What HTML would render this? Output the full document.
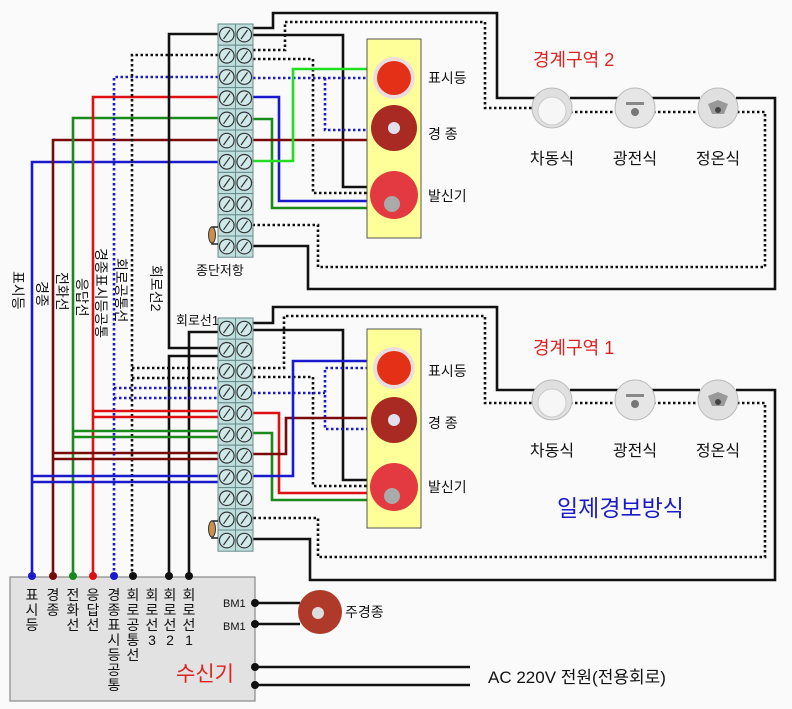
<!DOCTYPE html>
<html><head><meta charset="utf-8"><style>
html,body{margin:0;padding:0;background:#fafafa;}
svg{display:block;font-family:"Liberation Sans","Noto Sans CJK KR",sans-serif;}
</style></head><body>
<svg width="792" height="709" viewBox="0 0 792 709" xmlns="http://www.w3.org/2000/svg">
<defs>
<g id="cell">
<rect x="0" y="0" width="17.5" height="21.2" fill="#bfdede" stroke="#6a8a8a" stroke-width="1"/>
<circle cx="8.75" cy="10.6" r="7.3" fill="#cfe8e8" stroke="#333" stroke-width="1.2"/>
<line x1="5.5" y1="15" x2="12" y2="6" stroke="#333" stroke-width="1.2"/>
</g>
<g id="col">
<use href="#cell" y="0"/><use href="#cell" y="21.2"/><use href="#cell" y="42.4"/><use href="#cell" y="63.6"/><use href="#cell" y="84.8"/><use href="#cell" y="106"/><use href="#cell" y="127.2"/><use href="#cell" y="148.4"/><use href="#cell" y="169.6"/><use href="#cell" y="190.8"/><use href="#cell" y="212"/>
</g>
<g id="det1"><circle r="20" fill="#e0e0e0" stroke="#bbb"/><circle r="14" cy="3" fill="#f6f6f6" stroke="#ccc"/></g>
<g id="det2"><circle r="20" fill="#e6e6e6" stroke="#bbb"/><circle r="4" cy="4" fill="#777"/><rect x="-9" y="-6" width="18" height="3" fill="#888"/></g>
<g id="det3"><circle r="20" fill="#e0e0e0" stroke="#bbb"/><path d="M-10 -4 L0 -8 L10 -4 L6 6 L-6 6Z" fill="#999"/><circle r="3" cy="2" fill="#444"/></g>
</defs>
<rect width="792" height="709" fill="#fafafa"/>

<g fill="none" stroke-width="2.6" stroke-linejoin="miter">
<polyline points="218,162 32,162 32,577" stroke="#1a1acc"/>
<polyline points="218,140 53,140 53,577" stroke="#7a0a0a"/>
<polyline points="218,118 73,118 73,577" stroke="#1a8a1a"/>
<polyline points="218,97 93,97 93,577" stroke="#dd1111"/>
<polyline points="218,77 114,77 114,577" stroke="#1a1acc" stroke-dasharray="2.5 2.5"/>
<polyline points="218,55 132,55 132,577" stroke="#111" stroke-dasharray="2.5 2.5"/>
<polyline points="218,34 169,34 169,348 218,348" stroke="#111"/>
<polyline points="218,356 169,356 169,577" stroke="#111"/>
<polyline points="218,332 189,332 189,577" stroke="#111"/>
<line x1="132" y1="368" x2="218" y2="368" stroke="#111" stroke-dasharray="2.5 2.5"/>
<line x1="132" y1="378" x2="218" y2="378" stroke="#111" stroke-dasharray="2.5 2.5"/>
<line x1="114" y1="388" x2="218" y2="388" stroke="#1a1acc" stroke-dasharray="2.5 2.5"/>
<line x1="114" y1="398" x2="218" y2="398" stroke="#1a1acc" stroke-dasharray="2.5 2.5"/>
<line x1="93" y1="411" x2="218" y2="411" stroke="#dd1111"/>
<line x1="93" y1="417" x2="218" y2="417" stroke="#dd1111"/>
<line x1="73" y1="431" x2="218" y2="431" stroke="#1a8a1a"/>
<line x1="73" y1="437" x2="218" y2="437" stroke="#1a8a1a"/>
<line x1="53" y1="453" x2="218" y2="453" stroke="#7a0a0a"/>
<line x1="53" y1="459" x2="218" y2="459" stroke="#7a0a0a"/>
<line x1="32" y1="476" x2="218" y2="476" stroke="#1a1acc"/>
<line x1="32" y1="482" x2="218" y2="482" stroke="#1a1acc"/>

<polyline points="253,28 273,28 273,13 497,13 497,98 540,98" stroke="#111"/>
<polyline points="570,98 620,98" stroke="#111"/>
<polyline points="652,98 700,98" stroke="#111"/>
<polyline points="736,98 775,98 775,289 308,289 308,246 253,246" stroke="#111"/>
<polyline points="253,50 285,50 285,22 485,22 485,108 535,108" stroke="#111" stroke-dasharray="2.5 2.5"/>
<polyline points="570,112 617,112" stroke="#111" stroke-dasharray="2.5 2.5"/>
<polyline points="653,112 700,112" stroke="#111" stroke-dasharray="2.5 2.5"/>
<polyline points="737,112 765,112 765,267 318,267 318,225 253,225" stroke="#111" stroke-dasharray="2.5 2.5"/>
<polyline points="253,35 343,35 343,187 373,187" stroke="#111"/>
<polyline points="253,59 313,59 313,193 373,193" stroke="#111" stroke-dasharray="2.5 2.5"/>
<polyline points="253,78 378,78" stroke="#1a1acc" stroke-dasharray="2.5 2.5"/>
<polyline points="325,78 325,130 373,130" stroke="#1a1acc" stroke-dasharray="2.5 2.5"/>
<polyline points="253,97 279,97 279,201 373,201" stroke="#1a1acc"/>
<polyline points="253,119 272,119 272,208 373,208" stroke="#1a8a1a"/>
<polyline points="253,140 373,140" stroke="#7a0a0a"/>
<polyline points="253,161 293,161 293,69 378,69" stroke="#22dd22"/>

<polyline points="253,323 273,323 273,307 497,307 497,390 540,390" stroke="#111"/>
<polyline points="570,390 620,390" stroke="#111"/>
<polyline points="652,390 700,390" stroke="#111"/>
<polyline points="736,390 775,390 775,580 310,580 310,539 253,539" stroke="#111"/>
<polyline points="253,368 284,368 284,316 485,316 485,403 535,403" stroke="#111" stroke-dasharray="2.5 2.5"/>
<polyline points="570,403 617,403" stroke="#111" stroke-dasharray="2.5 2.5"/>
<polyline points="653,403 700,403" stroke="#111" stroke-dasharray="2.5 2.5"/>
<polyline points="737,403 765,403 765,557 318,557 318,518 253,518" stroke="#111" stroke-dasharray="2.5 2.5"/>
<polyline points="253,330 343,330 343,480 373,480" stroke="#111"/>
<polyline points="253,377 313,377 313,486 373,486" stroke="#111" stroke-dasharray="2.5 2.5"/>
<polyline points="253,393 325,393" stroke="#1a1acc" stroke-dasharray="2.5 2.5"/>
<polyline points="373,368 325,368 325,429 373,429" stroke="#1a1acc" stroke-dasharray="2.5 2.5"/>
<polyline points="253,413 279,413 279,493 373,493" stroke="#dd1111"/>
<polyline points="253,433 272,433 272,500 373,500" stroke="#1a8a1a"/>
<polyline points="253,454 286,454 286,418 373,418" stroke="#7a0a0a"/>
<polyline points="253,476 293,476 293,361 378,361" stroke="#1a1acc"/>

<line x1="255" y1="603" x2="300" y2="603" stroke="#111"/>
<line x1="255" y1="624" x2="300" y2="624" stroke="#111"/>
<line x1="255" y1="667" x2="470" y2="667" stroke="#111"/>
<line x1="255" y1="685" x2="470" y2="685" stroke="#111"/>
</g>

<use href="#col" x="218" y="24"/><use href="#col" x="235.5" y="24"/>
<use href="#col" x="218" y="318"/><use href="#col" x="235.5" y="318"/>
<g stroke="#222" stroke-width="1.5" fill="none">
<path d="M218,227 H212 V244 H218"/><path d="M218,521 H212 V538 H218"/>
</g>
<ellipse cx="212" cy="235" rx="3.5" ry="8" fill="#c89050" stroke="#333"/>
<ellipse cx="212" cy="529" rx="3.5" ry="8" fill="#c89050" stroke="#333"/>

<rect x="367" y="39" width="54" height="199" fill="#ffff99" stroke="#555" stroke-width="1"/>
<rect x="367" y="329" width="54" height="199" fill="#ffff99" stroke="#555" stroke-width="1"/>
<g>
<circle cx="394" cy="78" r="21" fill="#eedddd"/><circle cx="394" cy="78" r="17" fill="#e53018"/>
<circle cx="394" cy="128" r="23" fill="#a82a22"/><circle cx="394" cy="128" r="6" fill="#e0e0ee"/>
<circle cx="394" cy="195" r="24" fill="#e23a40"/><circle cx="392" cy="204" r="8" fill="#aaa"/>
<circle cx="394" cy="368" r="21" fill="#eedddd"/><circle cx="394" cy="368" r="17" fill="#e53018"/>
<circle cx="394" cy="420" r="23" fill="#a82a22"/><circle cx="394" cy="420" r="6" fill="#e0e0ee"/>
<circle cx="394" cy="487" r="24" fill="#e23a40"/><circle cx="392" cy="496" r="8" fill="#aaa"/>
</g>
<use href="#det1" x="552" y="108"/><use href="#det2" x="635" y="108"/><use href="#det3" x="718" y="108"/>
<use href="#det1" x="552" y="400"/><use href="#det2" x="635" y="400"/><use href="#det3" x="718" y="400"/>

<rect x="10" y="577" width="245" height="124" fill="#e2e2e2" stroke="#888" stroke-width="1.2"/>
<g fill="#111">
<circle cx="32" cy="576" r="4" fill="#1a1acc"/><circle cx="53" cy="576" r="4" fill="#7a0a0a"/><circle cx="73" cy="576" r="4" fill="#1a8a1a"/><circle cx="93" cy="576" r="4" fill="#dd1111"/><circle cx="114" cy="576" r="4" fill="#1a1acc"/><circle cx="133" cy="576" r="4"/><circle cx="169" cy="576" r="4"/><circle cx="189" cy="576" r="4"/>
<circle cx="255" cy="603" r="4"/><circle cx="255" cy="624" r="4"/><circle cx="255" cy="667" r="4"/><circle cx="255" cy="685" r="4"/>
</g>
<circle cx="320" cy="612" r="22" fill="#b03a2a"/><circle cx="318" cy="613" r="6" fill="#ddd"/>

<g font-size="14" fill="#111">
<text x="428" y="83">표시등</text>
<text x="428" y="139">경  종</text>
<text x="428" y="201">발신기</text>
<text x="428" y="376">표시등</text>
<text x="428" y="428">경  종</text>
<text x="428" y="492">발신기</text>
<text x="196" y="275" font-size="13">종단저항</text>
<text x="176" y="325" font-size="13">회로선1</text>
<text x="345" y="617">주경종</text>
<text x="223" y="607" font-size="11">BM1</text>
<text x="223" y="630" font-size="11">BM1</text>
</g>
<g font-size="16" fill="#111" text-anchor="middle">
<text x="552" y="164">차동식</text><text x="635" y="164">광전식</text><text x="718" y="164">정온식</text>
<text x="552" y="456">차동식</text><text x="635" y="456">광전식</text><text x="718" y="456">정온식</text>
</g>
<text x="533" y="66" font-size="18" fill="#dd2222">경계구역 2</text>
<text x="533" y="354" font-size="18" fill="#dd2222">경계구역 1</text>
<text x="557" y="516" font-size="23" fill="#1a1acc">일제경보방식</text>
<text x="176" y="681" font-size="21" fill="#dd2222">수신기</text>
<text x="488" y="683" font-size="17" fill="#111">AC 220V 전원(전용회로)</text>

<g font-size="14" fill="#111">
<text transform="translate(13,271) rotate(90)">표시등</text>
<text transform="translate(37,281) rotate(90)">경종</text>
<text transform="translate(57,272) rotate(90)">전화선</text>
<text transform="translate(77,278) rotate(90)">응답선</text>
<text transform="translate(96,248) rotate(90)">경종표시등공통</text>
<text transform="translate(116,258) rotate(90)">회로공통선</text>
<text transform="translate(151,265) rotate(90)">회로선2</text>
</g>
<g font-size="14" fill="#111" text-anchor="middle">
<text x="32" y="600">표</text><text x="32" y="615">시</text><text x="32" y="630">등</text>
<text x="53" y="600">경</text><text x="53" y="615">종</text>
<text x="73" y="600">전</text><text x="73" y="615">화</text><text x="73" y="630">선</text>
<text x="93" y="600">응</text><text x="93" y="615">답</text><text x="93" y="630">선</text>
<text x="114" y="600">경</text><text x="114" y="615">종</text><text x="114" y="630">표</text><text x="114" y="645">시</text><text x="114" y="660">등</text><text x="114" y="675">공</text><text x="114" y="690">통</text>
<text x="133" y="600">회</text><text x="133" y="615">로</text><text x="133" y="630">공</text><text x="133" y="645">통</text><text x="133" y="660">선</text>
<text x="152" y="600">회</text><text x="152" y="615">로</text><text x="152" y="630">선</text><text x="152" y="645">3</text>
<text x="170" y="600">회</text><text x="170" y="615">로</text><text x="170" y="630">선</text><text x="170" y="645">2</text>
<text x="189" y="600">회</text><text x="189" y="615">로</text><text x="189" y="630">선</text><text x="189" y="645">1</text>
</g>
</svg>
</body></html>
